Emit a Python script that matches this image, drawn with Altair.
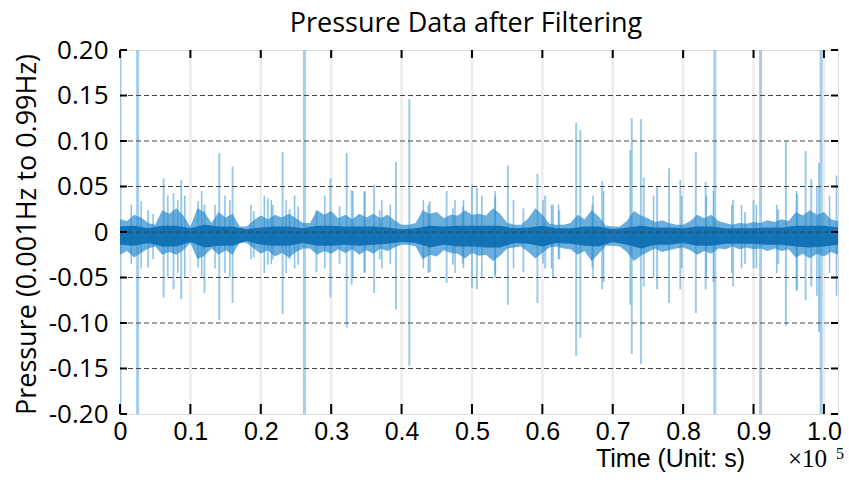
import altair as alt
import pandas as pd

# ---------------- data (time in units of 1e5 s, pressure) ----------------
fuzz_t = [0.00, 0.01, 0.02, 0.03, 0.04, 0.05, 0.06, 0.07, 0.08, 0.09,
          0.10, 0.11, 0.12, 0.13, 0.14, 0.15, 0.16, 0.17, 0.18, 0.19,
          0.20, 0.21, 0.22, 0.23, 0.24, 0.25, 0.26, 0.27, 0.28, 0.29,
          0.30, 0.31, 0.32, 0.33, 0.34, 0.35, 0.36, 0.37, 0.38, 0.39,
          0.40, 0.41, 0.42, 0.43, 0.44, 0.45, 0.46, 0.47, 0.48, 0.49,
          0.50, 0.51, 0.52, 0.53, 0.54, 0.55, 0.56, 0.57, 0.58, 0.59,
          0.60, 0.61, 0.62, 0.63, 0.64, 0.65, 0.66, 0.67, 0.68, 0.69,
          0.70, 0.71, 0.72, 0.73, 0.74, 0.75, 0.76, 0.77, 0.78, 0.79,
          0.80, 0.81, 0.82, 0.83, 0.84, 0.85, 0.86, 0.87, 0.88, 0.89,
          0.90, 0.91, 0.92, 0.93, 0.94, 0.95, 0.96, 0.97, 0.98, 0.99,
          1.00, 1.01, 1.02]
fuzz_hi = [0.014, 0.012, 0.019, 0.016, 0.010, 0.008, 0.024, 0.020, 0.026, 0.018,
           0.006, 0.026, 0.022, 0.010, 0.022, 0.016, 0.020, 0.006, 0.006, 0.013,
           0.018, 0.014, 0.019, 0.016, 0.020, 0.015, 0.010, 0.010, 0.024, 0.019,
           0.023, 0.015, 0.019, 0.014, 0.020, 0.016, 0.020, 0.015, 0.019, 0.013,
           0.008, 0.008, 0.010, 0.024, 0.020, 0.022, 0.015, 0.019, 0.018, 0.024,
           0.019, 0.020, 0.018, 0.026, 0.020, 0.010, 0.008, 0.008, 0.015, 0.026,
           0.019, 0.009, 0.008, 0.008, 0.010, 0.019, 0.014, 0.024, 0.017, 0.007,
           0.006, 0.006, 0.012, 0.023, 0.018, 0.015, 0.011, 0.013, 0.010, 0.008,
           0.008, 0.012, 0.019, 0.015, 0.019, 0.012, 0.010, 0.008, 0.010, 0.009,
           0.011, 0.010, 0.013, 0.011, 0.014, 0.012, 0.022, 0.018, 0.024, 0.019,
           0.022, 0.014, 0.012]
fuzz_lo = [-0.025, -0.021, -0.028, -0.023, -0.018, -0.016, -0.025, -0.022, -0.025, -0.020,
           -0.012, -0.030, -0.026, -0.018, -0.025, -0.020, -0.025, -0.011, -0.012, -0.018,
           -0.024, -0.020, -0.027, -0.023, -0.028, -0.022, -0.018, -0.018, -0.025, -0.021,
           -0.024, -0.019, -0.023, -0.019, -0.025, -0.020, -0.024, -0.018, -0.021, -0.017,
           -0.014, -0.014, -0.016, -0.030, -0.025, -0.027, -0.020, -0.023, -0.024, -0.029,
           -0.023, -0.026, -0.025, -0.032, -0.026, -0.018, -0.017, -0.016, -0.022, -0.029,
           -0.023, -0.017, -0.016, -0.018, -0.019, -0.025, -0.021, -0.032, -0.024, -0.015,
           -0.015, -0.016, -0.022, -0.032, -0.026, -0.022, -0.018, -0.022, -0.020, -0.018,
           -0.017, -0.020, -0.025, -0.021, -0.024, -0.018, -0.019, -0.016, -0.019, -0.017,
           -0.019, -0.018, -0.021, -0.018, -0.021, -0.019, -0.028, -0.024, -0.029, -0.024,
           -0.027, -0.022, -0.025]

core_t = [0.00, 0.02, 0.04, 0.06, 0.08, 0.10, 0.12, 0.14, 0.16, 0.18,
          0.20, 0.22, 0.24, 0.26, 0.28, 0.30, 0.32, 0.34, 0.36, 0.38,
          0.40, 0.42, 0.44, 0.46, 0.48, 0.50, 0.52, 0.54, 0.56, 0.58,
          0.60, 0.62, 0.64, 0.66, 0.68, 0.70, 0.72, 0.74, 0.76, 0.78,
          0.80, 0.82, 0.84, 0.86, 0.88, 0.90, 0.92, 0.94, 0.96, 0.98,
          1.00, 1.02]
core_hi = [0.006, 0.007, 0.004, 0.007, 0.007, 0.004, 0.008, 0.006, 0.006, 0.003,
           0.005, 0.006, 0.006, 0.004, 0.007, 0.007, 0.006, 0.006, 0.006, 0.005,
           0.003, 0.004, 0.007, 0.006, 0.007, 0.007, 0.007, 0.007, 0.004, 0.005,
           0.007, 0.004, 0.004, 0.006, 0.006, 0.003, 0.005, 0.007, 0.005, 0.005,
           0.004, 0.006, 0.006, 0.004, 0.004, 0.004, 0.005, 0.005, 0.007, 0.007,
           0.007, 0.005]
core_lo = [-0.014, -0.015, -0.012, -0.016, -0.016, -0.011, -0.017, -0.015, -0.015, -0.010,
           -0.014, -0.015, -0.015, -0.012, -0.015, -0.015, -0.014, -0.015, -0.014, -0.013,
           -0.011, -0.012, -0.017, -0.014, -0.016, -0.016, -0.017, -0.017, -0.012, -0.013,
           -0.016, -0.012, -0.013, -0.015, -0.016, -0.011, -0.014, -0.018, -0.014, -0.014,
           -0.012, -0.015, -0.015, -0.013, -0.013, -0.013, -0.014, -0.014, -0.016, -0.017,
           -0.016, -0.014]

# full-range spikes (clipped by the frame)
full_t = [0.000, 0.025, 0.262, 0.845, 0.910, 0.996]
full_hi = [0.21, 0.21, 0.21, 0.21, 0.21, 0.21]
full_lo = [-0.21, -0.21, -0.21, -0.21, -0.21, -0.21]

# large spikes
spike_t = [0.040, 0.062, 0.076, 0.087, 0.111, 0.120, 0.141, 0.160, 0.190, 0.210,
           0.217, 0.231, 0.241, 0.253, 0.279, 0.299, 0.312, 0.322, 0.329, 0.347,
           0.361, 0.369, 0.392, 0.411, 0.440, 0.464, 0.473, 0.487, 0.500, 0.507,
           0.533, 0.551, 0.573, 0.593, 0.604, 0.615, 0.624, 0.648, 0.654, 0.671,
           0.685, 0.725, 0.727, 0.740, 0.744, 0.763, 0.780, 0.796, 0.818, 0.832,
           0.871, 0.888, 0.900, 0.935, 0.946, 0.962, 0.974, 0.982, 0.993, 1.018]
spike_hi = [0.024, 0.059, 0.043, 0.057, 0.034, 0.030, 0.087, 0.072, 0.023, 0.037,
            0.030, 0.088, 0.025, 0.028, 0.024, 0.059, 0.028, 0.087, 0.046, 0.044,
            0.052, 0.024, 0.077, 0.146, 0.034, 0.045, 0.026, 0.028, 0.052, 0.049,
            0.039, 0.073, 0.026, 0.064, 0.040, 0.030, 0.024, 0.120, 0.112, 0.030,
            0.056, 0.090, 0.125, 0.124, 0.060, 0.050, 0.070, 0.057, 0.088, 0.055,
            0.035, 0.022, 0.035, 0.025, 0.100, 0.042, 0.089, 0.058, 0.076, 0.062]
spike_lo = [-0.039, -0.072, -0.063, -0.074, -0.039, -0.067, -0.097, -0.078, -0.028, -0.036,
            -0.030, -0.090, -0.030, -0.036, -0.044, -0.072, -0.035, -0.105, -0.058, -0.044,
            -0.067, -0.030, -0.085, -0.147, -0.044, -0.056, -0.036, -0.035, -0.061, -0.063,
            -0.047, -0.080, -0.044, -0.078, -0.040, -0.050, -0.030, -0.136, -0.116, -0.039,
            -0.063, -0.080, -0.134, -0.145, -0.060, -0.063, -0.078, -0.063, -0.089, -0.063,
            -0.060, -0.035, -0.040, -0.035, -0.103, -0.063, -0.075, -0.060, -0.110, -0.070]

# small spikes
minor_t = [0.016, 0.030, 0.047, 0.068, 0.082, 0.092, 0.116, 0.135, 0.149, 0.156,
           0.186, 0.205, 0.215, 0.236, 0.248, 0.291, 0.331, 0.348, 0.372, 0.384,
           0.431, 0.438, 0.476, 0.488, 0.514, 0.533, 0.559, 0.601, 0.613, 0.623,
           0.672, 0.687, 0.758, 0.798, 0.833, 0.843, 0.869, 0.883, 0.904, 0.933,
           0.961, 0.990, 1.008]
minor_hi = [0.030, 0.034, 0.020, 0.040, 0.035, 0.040, 0.045, 0.030, 0.040, 0.035,
            0.030, 0.040, 0.035, 0.035, 0.040, 0.040, 0.045, 0.045, 0.035, 0.030,
            0.035, 0.030, 0.035, 0.035, 0.040, 0.045, 0.035, 0.035, 0.030, 0.030,
            0.040, 0.045, 0.040, 0.040, 0.040, 0.045, 0.030, 0.030, 0.030, 0.030,
            0.045, 0.050, 0.040]
minor_lo = [-0.035, -0.040, -0.030, -0.050, -0.045, -0.050, -0.050, -0.040, -0.045, -0.050,
            -0.030, -0.045, -0.035, -0.045, -0.040, -0.040, -0.050, -0.045, -0.040, -0.035,
            -0.040, -0.045, -0.045, -0.040, -0.050, -0.050, -0.040, -0.035, -0.040, -0.030,
            -0.050, -0.055, -0.050, -0.040, -0.050, -0.055, -0.045, -0.040, -0.040, -0.045,
            -0.065, -0.070, -0.045]

x_ticks = [0.0, 0.1, 0.2, 0.3, 0.4, 0.5, 0.6, 0.7, 0.8, 0.9, 1.0]
y_ticks = [-0.20, -0.15, -0.10, -0.05, 0.0, 0.05, 0.10, 0.15, 0.20]
y_grid = [-0.15, -0.10, -0.05, 0.0, 0.05, 0.10, 0.15]

title_text = ["Pressure Data after Filtering"]
x_title = ["Time (Unit: s)"]
y_title = "Pressure (0.001Hz to 0.99Hz)"
exp_base = ["\u00d710"]
exp_pow = ["5"]

# ---------------- chart ----------------
W, H = 718, 364
XS = alt.Scale(domain=[0, 1.02], nice=False, zero=False)
YS = alt.Scale(domain=[-0.2, 0.2], nice=False, zero=False)

XAX = alt.Axis(values=x_ticks, grid=False, domain=False, ticks=False, tickSize=0,
               labelExpr="datum.value == 0 ? '0' : format(datum.value, '.1f')",
               labelFont="Liberation Sans", labelFontSize=25, labelColor="black",
               labelPadding=5, labelFlush=False, labelOverlap=False, title=None)
YAX = alt.Axis(values=y_ticks, grid=False, domain=False, ticks=False, tickSize=0,
               labelExpr="datum.value == 0 ? '0' : (datum.value < 0 ? '-' : '') + format(abs(datum.value), '.2f')",
               labelFont="Open Sans", labelFontSize=26, labelColor="black",
               labelPadding=12, labelFlush=False, labelOverlap=False,
               title=y_title, titleFont="Open Sans", titleFontSize=27,
               titleFontWeight="normal", titleColor="black", titleAngle=270,
               titleX=-85, titleY=H / 2 + 2, titleAlign="center",
               titleBaseline="alphabetic")

fuzz_df = pd.DataFrame({"t": fuzz_t, "hi": fuzz_hi, "lo": fuzz_lo})
core_df = pd.DataFrame({"t": core_t, "hi": core_hi, "lo": core_lo})
full_df = pd.DataFrame({"t": full_t, "hi": full_hi, "lo": full_lo})
spike_df = pd.DataFrame({"t": spike_t, "hi": spike_hi, "lo": spike_lo})
minor_df = pd.DataFrame({"t": minor_t, "hi": minor_hi, "lo": minor_lo})
xt_df = pd.DataFrame({"t": x_ticks})
xg_df = pd.DataFrame({"t": x_ticks[1:]})
yt_df = pd.DataFrame({"hi": y_ticks})
yg_df = pd.DataFrame({"hi": y_grid})


def X():
    return alt.X("t:Q", scale=XS, axis=XAX)


def Y():
    return alt.Y("hi:Q", scale=YS, axis=YAX)


vgrid = alt.Chart(xg_df).mark_rule(color="#ececec", strokeWidth=2.5).encode(
    x=X(), y=alt.value(0), y2=alt.value(H))

full = alt.Chart(full_df).mark_rule(color="#86bfe6", strokeWidth=3, opacity=0.75, clip=True).encode(
    x=X(), y=Y(), y2="lo:Q")

spikes = alt.Chart(spike_df).mark_rule(color="#5aa9dc", strokeWidth=2, opacity=0.6, clip=True).encode(
    x=X(), y=Y(), y2="lo:Q")

minor = alt.Chart(minor_df).mark_rule(color="#3d96d4", strokeWidth=1.5, opacity=0.6, clip=True).encode(
    x=X(), y=Y(), y2="lo:Q")

fuzz = alt.Chart(fuzz_df).mark_area(color="#2a8bcf", opacity=0.7, clip=True).encode(
    x=X(), y=Y(), y2="lo:Q")

core = alt.Chart(core_df).mark_area(color="#0b6db3", opacity=0.9, clip=True).encode(
    x=X(), y=Y(), y2="lo:Q")

hgrid = alt.Chart(yg_df).mark_rule(color="#444444", strokeWidth=1, strokeDash=[5, 3]).encode(
    y=Y(), x=alt.value(0), x2=alt.value(W))

tick_bottom = alt.Chart(xt_df).mark_rule(color="black", strokeWidth=2).encode(
    x=X(), y=alt.value(H), y2=alt.value(H - 10))
tick_top = alt.Chart(xt_df).mark_rule(color="black", strokeWidth=2).encode(
    x=X(), y=alt.value(0), y2=alt.value(8))
tick_left = alt.Chart(yt_df).mark_rule(color="black", strokeWidth=2).encode(
    y=Y(), x=alt.value(0), x2=alt.value(7))
tick_right = alt.Chart(yt_df).mark_rule(color="black", strokeWidth=2).encode(
    y=Y(), x=alt.value(W), x2=alt.value(W - 7))

title = alt.Chart(pd.DataFrame({"s": title_text})).mark_text(
    font="Open Sans", fontSize=27, color="black", align="center", baseline="alphabetic").encode(
    text="s:N", x=alt.value(346), y=alt.value(-18))

xtitle = alt.Chart(pd.DataFrame({"s": x_title})).mark_text(
    font="Liberation Sans", fontSize=25, color="black", align="right", baseline="alphabetic").encode(
    text="s:N", x=alt.value(625), y=alt.value(417))

xexp = alt.Chart(pd.DataFrame({"s": exp_base})).mark_text(
    font="Liberation Serif", fontSize=25, color="black", align="left", baseline="alphabetic").encode(
    text="s:N", x=alt.value(668), y=alt.value(417))

xpow = alt.Chart(pd.DataFrame({"s": exp_pow})).mark_text(
    font="Liberation Serif", fontSize=16, color="black", align="left", baseline="alphabetic").encode(
    text="s:N", x=alt.value(716), y=alt.value(409))

chart = alt.layer(
    vgrid, full, spikes, minor, fuzz, core, hgrid,
    tick_bottom, tick_top, tick_left, tick_right,
    title, xtitle, xexp, xpow,
).properties(
    width=W, height=H,
    autosize=alt.AutoSizeParams(type="none"),
    padding={"left": 120, "top": 50, "right": 11, "bottom": 69},
).configure_view(
    stroke="black", strokeWidth=2
).configure(background="white")

chart.save("out.html", embed_options={"renderer": "svg", "actions": False})
